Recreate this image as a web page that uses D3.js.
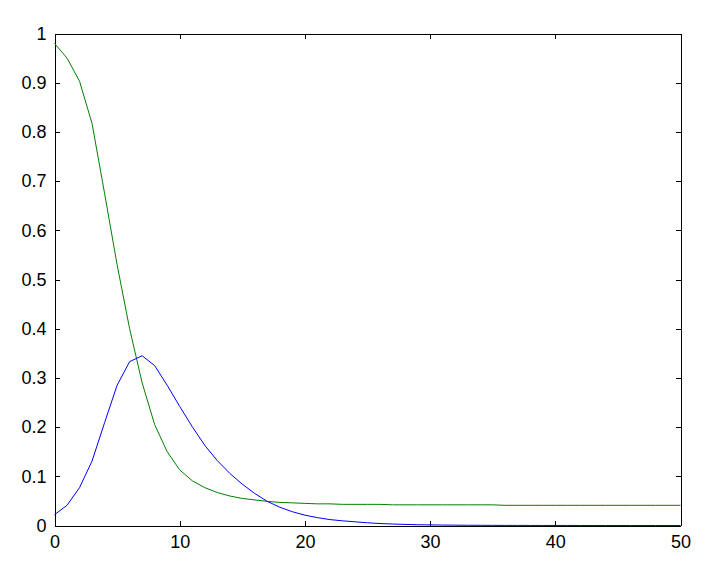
<!DOCTYPE html>
<html>
<head>
<meta charset="utf-8">
<script src="https://cdn.jsdelivr.net/npm/d3@7"></script>
<style>
  html, body { margin: 0; padding: 0; background: #fff; }
  svg { display: block; }
  .tick text { font-family: "Liberation Sans", Arial, sans-serif; font-size: 18px; fill: #000; }
</style>
</head>
<body>
<svg id="chart" width="708" height="569"></svg>
<script>
// sample index 0..50
const tValues = d3.range(0, 51);

// green curve
const greenValues = [
  0.980, 0.950, 0.903, 0.817, 0.675, 0.530, 0.400, 0.290, 0.205, 0.150,
  0.113, 0.091, 0.077, 0.067, 0.060, 0.055, 0.052, 0.049, 0.047, 0.046,
  0.045, 0.044, 0.044, 0.043, 0.043, 0.043, 0.043, 0.042, 0.042, 0.042,
  0.042, 0.042, 0.042, 0.042, 0.042, 0.042, 0.041, 0.041, 0.041, 0.041,
  0.041, 0.041, 0.041, 0.041, 0.041, 0.041, 0.041, 0.041, 0.041, 0.041,
  0.041
];

// blue curve
const blueValues = [
  0.022, 0.041, 0.077, 0.131, 0.209, 0.285, 0.333, 0.345, 0.325, 0.285,
  0.242, 0.201, 0.163, 0.132, 0.106, 0.084, 0.065, 0.049, 0.037, 0.028,
  0.021, 0.016, 0.012, 0.0095, 0.0075, 0.0055, 0.0040, 0.0030, 0.0022, 0.0016,
  0.0012, 0.0009, 0.0007, 0.0005, 0.0004, 0.0003, 0.0002, 0.0002, 0.0001, 0.0001,
  0.0001, 0.0001, 0, 0, 0, 0, 0, 0, 0, 0,
  0
];

const xTicks = [0, 10, 20, 30, 40, 50];
const yTicks = [0, 0.1, 0.2, 0.3, 0.4, 0.5, 0.6, 0.7, 0.8, 0.9, 1];

const svg = d3.select("#chart");
const m = { left: 54, right: 28, top: 33, bottom: 44 };
const W = 708, H = 569;

const x = d3.scaleLinear().domain([0, 50]).range([m.left, W - m.right]);
const y = d3.scaleLinear().domain([0, 1]).range([H - m.bottom, m.top]);

const g = svg.append("g").attr("transform", "translate(0.5,0.5)");

const fmt = d => d3.format("~g")(d);

// axes (inward ticks, mirrored)
const styleAxis = sel => {
  sel.selectAll("path, line").attr("stroke", "#000").attr("shape-rendering", "crispEdges");
};

g.append("g").attr("transform", `translate(0,${y(0)})`)
  .call(d3.axisBottom(x).tickValues(xTicks).tickFormat(fmt).tickSizeInner(-5).tickSizeOuter(0).tickPadding(10))
  .call(styleAxis);
g.append("g").attr("transform", `translate(0,${y(1)})`)
  .call(d3.axisTop(x).tickValues(xTicks).tickFormat("").tickSizeInner(-5).tickSizeOuter(0))
  .call(styleAxis);
g.append("g").attr("transform", `translate(${x(0)},0)`)
  .call(d3.axisLeft(y).tickValues(yTicks).tickFormat(fmt).tickSizeInner(-5).tickSizeOuter(0).tickPadding(8))
  .call(styleAxis);
g.append("g").attr("transform", `translate(${x(50)},0)`)
  .call(d3.axisRight(y).tickValues(yTicks).tickFormat("").tickSizeInner(-5).tickSizeOuter(0))
  .call(styleAxis);

// curves
const line = d3.line().x((d, i) => x(tValues[i])).y(d => y(d));
g.append("path").datum(greenValues).attr("d", line)
  .attr("fill", "none").attr("stroke", "#008000").attr("stroke-width", 1);
g.append("path").datum(blueValues).attr("d", line)
  .attr("fill", "none").attr("stroke", "#0000ff").attr("stroke-width", 1);
</script>
</body>
</html>
